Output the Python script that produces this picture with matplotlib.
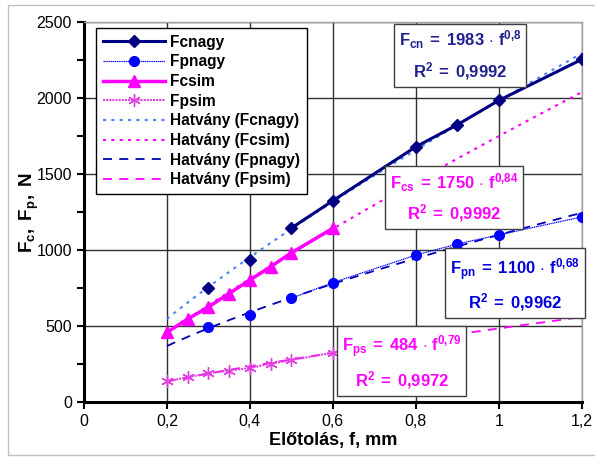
import matplotlib.pyplot as plt
import numpy as np
from matplotlib.patches import Rectangle

plt.rcParams['font.family'] = ['Liberation Sans', 'DejaVu Sans']
plt.rcParams['mathtext.fontset'] = 'custom'
plt.rcParams['mathtext.rm'] = 'Liberation Sans'
plt.rcParams['mathtext.bf'] = 'Liberation Sans:bold'
plt.rcParams['mathtext.it'] = 'Liberation Sans:italic'

# measured cutting forces vs feed
f_nagy = [0.3, 0.35, 0.4, 0.45, 0.5, 0.6, 0.8, 0.9, 1.0, 1.2]
Fcnagy = [752, np.nan, 932, np.nan, 1145, 1325, 1680, 1825, 1985, 2255]
Fpnagy = [495, np.nan, 573, np.nan, 683, 786, 967, 1040, 1100, 1218]
f_sim = [0.2, 0.25, 0.3, 0.35, 0.4, 0.45, 0.5, 0.6]
Fcsim = [458, 546, 625, 714, 803, 890, 982, 1143]
Fpsim = [136, 163, 189, 207, 224, 252, 276, 325]

# power trendlines F = a * f^b
trend_a = [1983, 1750, 1100, 484]
trend_b = [0.8, 0.84, 0.68, 0.79]
trend_r2 = ['0,9992', '0,9992', '0,9962', '0,9972']
trend_sub = ['cn', 'cs', 'pn', 'ps']
trend_b_txt = ['0,8', '0,84', '0,68', '0,79']

navy = '#000080'
blue = '#0000ff'
mag = '#ff00ff'

fig = plt.figure(figsize=(5.95, 4.61), dpi=100)
ax = fig.add_axes([0.141, 0.128, 0.837, 0.824])
fig.patches.append(Rectangle((0.013, 0.012), 1.2, 0.977, transform=fig.transFigure,
                             fill=False, edgecolor='#c0c0c0', lw=1))

ax.plot(f_nagy, Fcnagy, color=navy, lw=2.2, marker='D', ms=6, label='Fcnagy', zorder=5)
ax.plot(f_nagy, Fpnagy, color=blue, lw=0.9, ls=(0, (1, 0.5)), marker='o', ms=7, label='Fpnagy', zorder=5)
ax.plot(f_sim, Fcsim, color=mag, lw=2.5, marker='^', ms=9, label='Fcsim', zorder=5)
ax.plot(f_sim, Fpsim, color='#e040e0', lw=1.5, ls=(0, (1, 0.5)), marker=(6, 2, 0), ms=9,
        mew=1, label='Fpsim', zorder=5)

ff = np.linspace(0.2, 1.2, 100)
trend_styles = [('#5080ff', (0, (1.5, 2.5)), 1.5, 'Hatvány (Fcnagy)'),
                (mag, (0, (1.5, 2.5)), 1.5, 'Hatvány (Fcsim)'),
                ('#0000b0', (0, (5, 4)), 1.3, 'Hatvány (Fpnagy)'),
                (mag, (0, (5, 4)), 1.3, 'Hatvány (Fpsim)')]
for a, b, (c, ls, lw, lab) in zip(trend_a, trend_b, trend_styles):
    ax.plot(ff, a * ff ** b, color=c, ls=ls, lw=lw, label=lab, zorder=4)

ax.set_xlim(0, 1.2)
ax.set_ylim(0, 2500)
ax.set_xticks(np.arange(0, 1.21, 0.2))
ax.set_xticklabels(['0', '0,2', '0,4', '0,6', '0,8', '1', '1,2'])
ax.set_yticks(np.arange(0, 2501, 500))
ax.set_yticks(np.arange(250, 2500, 500), minor=True)
ax.tick_params(axis='both', which='major', labelsize=11.5, direction='out', length=5, width=1.5)
ax.tick_params(axis='y', which='minor', direction='out', length=5, width=1.5)
ax.grid(True, which='major', color='#303030', lw=1)
ax.set_axisbelow(True)
for s in ['left', 'bottom']:
    ax.spines[s].set_linewidth(2.2)
    ax.spines[s].set_color('black')
for s in ['top', 'right']:
    ax.spines[s].set_linewidth(1)
    ax.spines[s].set_color('#a0a0a0')

ax.set_xlabel('Előtolás, f, mm', fontsize=13, fontweight='bold', labelpad=2)
ax.set_ylabel(r'$\mathbf{F_c,\ F_p,\ N}$', fontsize=13.5, labelpad=-3)

leg = ax.legend(loc='upper left', bbox_to_anchor=(0.024, 0.985), borderaxespad=0,
                fancybox=False, framealpha=1, edgecolor='black', handlelength=4,
                labelspacing=0.3, handletextpad=0.3, borderpad=0.45,
                prop={'weight': 'bold', 'size': 11.2})
leg.get_frame().set_linewidth(1)

# equation boxes
box_pos = [(0.755, 0.913), (0.743, 0.537), (0.866, 0.308), (0.638, 0.105)]
box_col = ['#202090', mag, '#0000dd', mag]
for sub, a, bt, r2, (bx, by), c in zip(trend_sub, trend_a, trend_b_txt, trend_r2, box_pos, box_col):
    bt_m = bt.replace(',', '{,}')
    r2_m = r2.replace(',', '{,}')
    txt = (r'$\mathbf{F_{%s}\;=\;%d\,\cdot\,f^{%s}}$' % (sub, a, bt_m)
           + '\n' + r'$\mathbf{R^{2}\;=\;%s}$' % r2_m)
    ax.text(bx, by, txt, transform=ax.transAxes, ha='center', va='center', color=c,
            fontsize=12, linespacing=1.5, zorder=6,
            bbox=dict(boxstyle='square,pad=0.3', fc='white', ec='#404040', lw=1))

fig.savefig('out.png', dpi=100)
